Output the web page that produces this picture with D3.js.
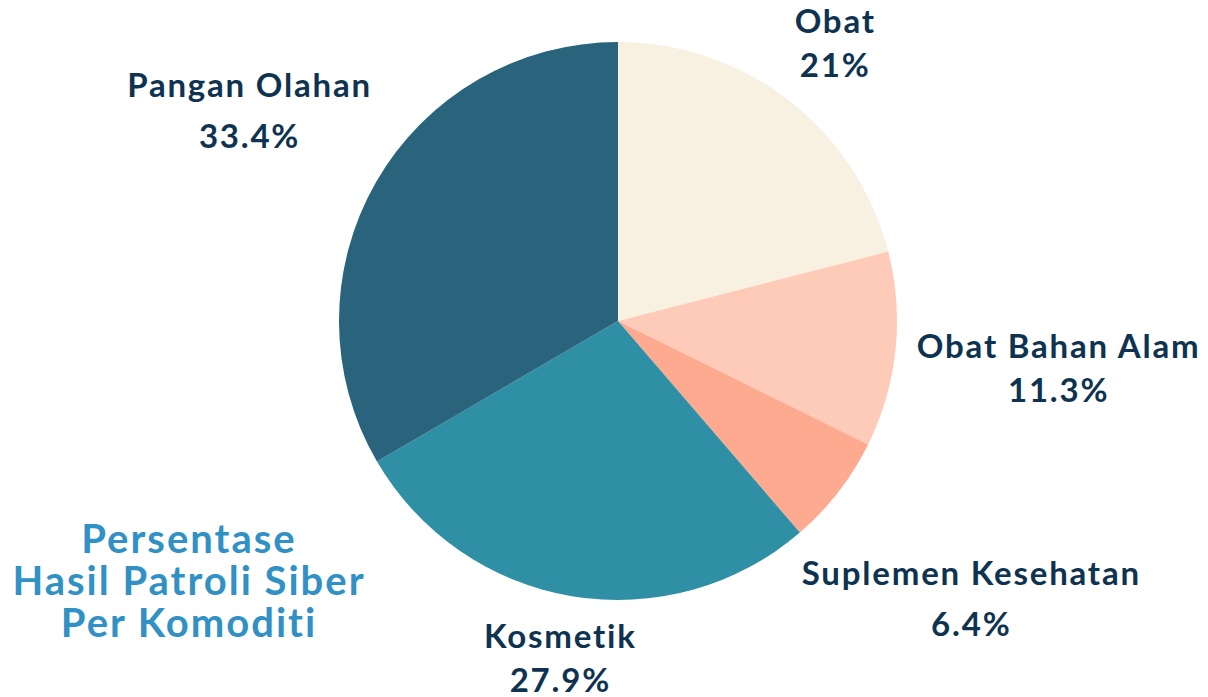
<!DOCTYPE html>
<html>
<head>
  <title>Hasil Patroli Siber</title>
<script src="https://d3js.org/d3.v7.min.js"></script>
<style>
  body { margin: 0; background: #fff; }
  svg { font-family: Lato, "Noto Sans", sans-serif; font-weight: 700; }
</style>
</head>

<body>
<svg width="1208" height="697"></svg>
<script>

// data
var categories = ["Obat", "Obat Bahan Alam", "Suplemen Kesehatan", "Kosmetik", "Pangan Olahan"];
var values = [21, 11.3, 6.4, 27.9, 33.4];
var colors = ["#f8f1e2", "#fecbb9", "#fdaa90", "#2e8fa5", "#2a647c"];
var title = ["Persentase", "Hasil Patroli Siber", "Per Komoditi"];

// label layout: distance from centre, small nudge, gap between the two lines
var labelDist = [343, 445, 456, 354, 418];
var nudge = [[7, 5], [-2, 13], [-7, 10], [1, 0], [-6, 10]];
var lineGap = [44, 44, 51, 44, 51];

var svg = d3.select("svg"),
    cx = 618, cy = 321, radius = 279;

var pie = d3.pie().sort(null).value(function(d) { return d; });
var arc = d3.arc().innerRadius(0).outerRadius(radius);

var arcs = pie(values);

var g = svg.append("g").attr("transform", "translate(" + cx + "," + cy + ")");

g.selectAll("path")
  .data(arcs)
  .enter().append("path")
    .attr("d", arc)
    .attr("fill", function(d, i) { return colors[i]; });

var label = g.selectAll(".label")
  .data(arcs)
  .enter().append("text")
    .attr("class", "label")
    .attr("text-anchor", "middle")
    .attr("fill", "#0e3350")
    .attr("font-size", 33)
    .attr("letter-spacing", 1.8)
    .attr("transform", function(d, i) {
      var a = (d.startAngle + d.endAngle) / 2;
      var x = Math.sin(a) * labelDist[i] + nudge[i][0],
          y = -Math.cos(a) * labelDist[i] + nudge[i][1];
      return "translate(" + x + "," + y + ")";
    });

label.append("tspan")
    .attr("x", 0)
    .attr("y", function(d, i) { return -lineGap[i] / 2; })
    .text(function(d, i) { return categories[i]; });

label.append("tspan")
    .attr("x", 0)
    .attr("y", function(d, i) { return lineGap[i] / 2; })
    .text(function(d, i) { return values[i] + "%"; });

// title
svg.append("text")
    .attr("text-anchor", "middle")
    .attr("fill", "#3191c4")
    .attr("font-size", 40)
    .attr("letter-spacing", 2)
  .selectAll("tspan")
  .data(title)
  .enter().append("tspan")
    .attr("x", 189)
    .attr("y", function(d, i) { return 553 + i * 42; })
    .text(function(d) { return d; });

</script>
</body>
</html>
